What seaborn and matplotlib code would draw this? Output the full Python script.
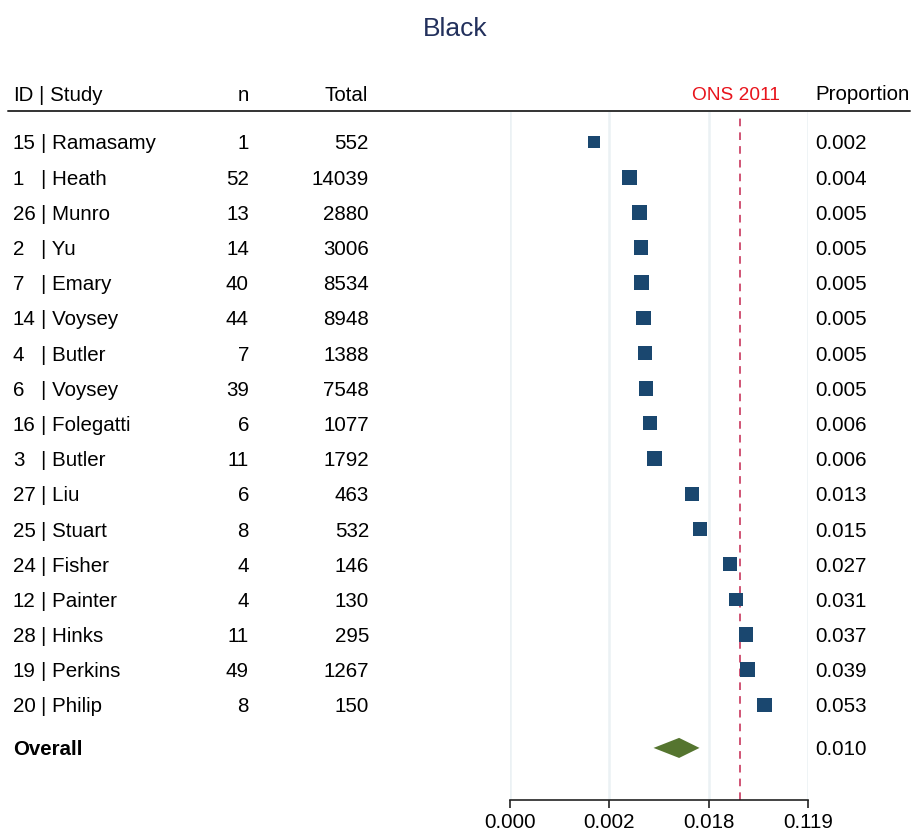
import numpy as np
import pandas as pd
import matplotlib
matplotlib.use("Agg")
import matplotlib.pyplot as plt
import matplotlib.transforms as mtransforms
from matplotlib.lines import Line2D
from matplotlib.patches import Polygon
import seaborn as sns

# ---- data -------------------------------------------------------------
study_ids = [15, 1, 26, 2, 7, 14, 4, 6, 16, 3, 27, 25, 24, 12, 28, 19, 20]
study_names = ["Ramasamy", "Heath", "Munro", "Yu", "Emary", "Voysey", "Butler",
               "Voysey", "Folegatti", "Butler", "Liu", "Stuart", "Fisher",
               "Painter", "Hinks", "Perkins", "Philip"]
events = [1, 52, 13, 14, 40, 44, 7, 39, 6, 11, 6, 8, 4, 4, 11, 49, 8]
totals = [552, 14039, 2880, 3006, 8534, 8948, 1388, 7548, 1077, 1792,
          463, 532, 146, 130, 295, 1267, 150]

overall_est = 0.010
overall_lo = 0.006
overall_hi = 0.015
ons_2011 = 0.033
tau2 = 1.5          # between-study variance used for random-effects weights
axis_logits = [-8, -6, -4, -2]

# ---- derived quantities ---------------------------------------------------
def logit(p):
    p = np.asarray(p, dtype=float)
    return np.log(p / (1 - p))

def expit(x):
    return 1 / (1 + np.exp(-np.asarray(x, dtype=float)))

ev = np.array(events, dtype=float)
tot = np.array(totals, dtype=float)
prop = ev / tot
weight = 1 / (1 / ev + 1 / (tot - ev) + tau2)

df = pd.DataFrame({
    "row": np.arange(len(study_ids)),
    "logit": logit(prop),
    "weight": weight,
})
overall_row = len(study_ids) - 1 + 1.22

# ---- styling --------------------------------------------------------------
sns.set_theme(style="white")
plt.rcParams["font.family"] = ["Liberation Sans", "DejaVu Sans"]
plt.rcParams["text.color"] = "black"
FS = 14.8
NAVY = "#1a476f"
OLIVE = "#55752f"
ONS_COL = "#c4264f"

W, H = 912, 830
fig = plt.figure(figsize=(W / 100, H / 100), dpi=100)
ax = fig.add_axes([510 / W, 30 / H, 298 / W, (800 - 111) / H])

# squares for each study
sns.scatterplot(data=df, x="logit", y="row", size="weight",
                sizes=(0, 112), size_norm=(0, weight.max()),
                marker="s", color=NAVY, linewidth=0, legend=False, ax=ax,
                zorder=3)

# pooled estimate diamond
h = 0.285
diamond = Polygon([(logit(overall_lo), overall_row),
                   (logit(overall_est), overall_row - h),
                   (logit(overall_hi), overall_row),
                   (logit(overall_est), overall_row + h)],
                  closed=True, facecolor=OLIVE, edgecolor="none", zorder=3)
ax.add_patch(diamond)

# reference line (ONS 2011)
ax.axvline(logit(ons_2011), ymin=0, ymax=0.995, color=ONS_COL,
           linestyle=(0, (5, 4)), linewidth=1.1, zorder=2)

ax.set_xlim(axis_logits[0], axis_logits[-1])
ax.set_ylim(18.70, -0.88)
ax.set_xticks(axis_logits)
ax.set_xticklabels([f"{v:.3f}" for v in expit(axis_logits)], fontsize=FS)
ax.set_yticks([])
ax.set_xlabel("")
ax.set_ylabel("")
ax.grid(axis="x", color="#ebf1f4", linewidth=1.8)
ax.set_axisbelow(True)
for side in ["top", "left", "right"]:
    ax.spines[side].set_visible(False)
ax.spines["bottom"].set_color("#222222")
ax.spines["bottom"].set_linewidth(1.2)
ax.tick_params(axis="x", direction="out", length=6, width=1.2,
               color="#222222", pad=3, labelcolor="black", bottom=True)

# ---- text columns -----------------------------------------------------------
tr = mtransforms.blended_transform_factory(fig.transFigure, ax.transData)
VA = "center_baseline"

def col(px):
    return px / W

header_y = -1.364
ax.text(col(13), header_y, "ID", transform=tr, ha="left", va=VA, fontsize=FS)
ax.text(col(39), header_y, "| Study", transform=tr, ha="left", va=VA, fontsize=FS)
ax.text(col(249), header_y, "n", transform=tr, ha="right", va=VA, fontsize=FS)
ax.text(col(368), header_y, "Total", transform=tr, ha="right", va=VA, fontsize=FS)
ax.text(col(735.5), header_y, "ONS 2011", transform=tr, ha="center", va=VA,
        fontsize=FS * 0.93, color="#e8141c")
ax.text(col(815), header_y - 0.05, "Proportion", transform=tr, ha="left", va=VA,
        fontsize=FS)

for i, (sid, name, n, t, p) in enumerate(zip(study_ids, study_names, events, totals, prop)):
    ax.text(col(13), i, f"{sid}", transform=tr, ha="left", va=VA, fontsize=FS)
    ax.text(col(41), i, f"| {name}", transform=tr, ha="left", va=VA, fontsize=FS)
    ax.text(col(249), i, f"{n}", transform=tr, ha="right", va=VA, fontsize=FS)
    ax.text(col(369), i, f"{t}", transform=tr, ha="right", va=VA, fontsize=FS)
    ax.text(col(815), i, f"{p:.3f}", transform=tr, ha="left", va=VA, fontsize=FS)

ax.text(col(13), overall_row, "Overall", transform=tr, ha="left", va=VA,
        fontsize=FS, fontweight="bold")
ax.text(col(815), overall_row, f"{overall_est:.3f}", transform=tr, ha="left",
        va=VA, fontsize=FS)

# header rule
fig.add_artist(Line2D([8 / W, 910 / W], [1 - 111 / H, 1 - 111 / H],
                      color="#333333", linewidth=1.4))

fig.text(455 / W, 1 - 26 / H, "Black", ha="center", va="center_baseline",
         fontsize=19, color="#22305c")

fig.savefig("out.png", dpi=100, facecolor="white")
